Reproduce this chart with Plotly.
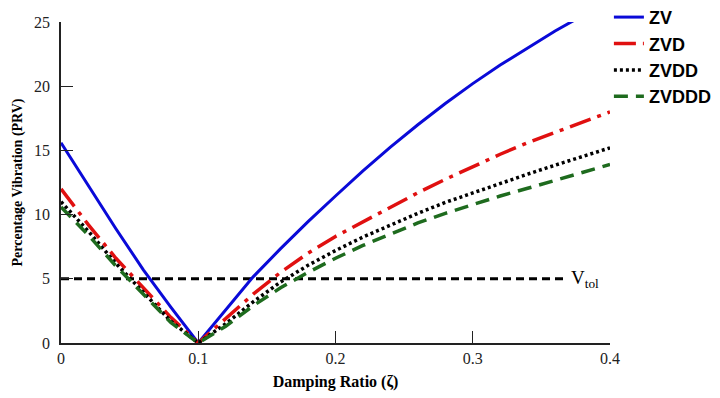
import plotly.graph_objects as go

# Damping ratio grid
zeta = [0.00, 0.02, 0.04, 0.06, 0.08, 0.10, 0.12, 0.14, 0.16, 0.18, 0.20,
        0.22, 0.24, 0.26, 0.28, 0.30, 0.32, 0.34, 0.36, 0.38, 0.40]

# Percentage residual vibration
zv    = [15.6, 12.2, 8.9, 5.7, 2.8, 0.0, 2.6, 5.15, 7.35, 9.45, 11.45,
         13.4, 15.25, 17.0, 18.65, 20.2, 21.65, 23.0, 24.3, 25.5, 26.6]
zvd   = [12.0, 9.2, 6.6, 4.3, 2.0, 0.0, 1.9, 3.8, 5.5, 7.0, 8.3,
         9.45, 10.6, 11.7, 12.75, 13.75, 14.7, 15.6, 16.4, 17.2, 18.0]
zvdd  = [11.0, 8.7, 6.2, 3.9, 1.7, 0.0, 1.5, 3.2, 4.75, 6.05, 7.2,
         8.25, 9.2, 10.1, 10.95, 11.7, 12.45, 13.15, 13.85, 14.55, 15.2]
zvddd = [10.6, 8.4, 6.0, 3.8, 1.6, 0.0, 1.3, 2.9, 4.3, 5.5, 6.6,
         7.6, 8.5, 9.35, 10.1, 10.8, 11.45, 12.05, 12.65, 13.3, 13.9]

vtol_x = [0.0, 0.366]
vtol_y = [5, 5]

x_ticks = [0, 0.1, 0.2, 0.3, 0.4]
x_ticktext = ["0", "0.1", "0.2", "0.3", "0.4"]
y_ticks = [0, 5, 10, 15, 20, 25]

serif = "Liberation Serif, Times New Roman, serif"
sans = "Liberation Sans, Arial, sans-serif"

fig = go.Figure()
fig.add_trace(go.Scatter(x=vtol_x, y=vtol_y, mode="lines", showlegend=False,
                         line=dict(color="black", width=3, dash="8px,5px")))
fig.add_trace(go.Scatter(x=zeta, y=zv, mode="lines", name="<b>ZV</b>",
                         line=dict(color="#0a0ad8", width=3)))
fig.add_trace(go.Scatter(x=zeta, y=zvd, mode="lines", name="<b>ZVD</b>",
                         line=dict(color="#e01010", width=3.5, dash="22px,7px,4px,7px")))
fig.add_trace(go.Scatter(x=zeta, y=zvdd, mode="lines", name="<b>ZVDD</b>",
                         line=dict(color="black", width=3.5, dash="3px,3px")))
fig.add_trace(go.Scatter(x=zeta, y=zvddd, mode="lines", name="<b>ZVDDD</b>",
                         line=dict(color="#1e6b1e", width=3.5, dash="14px,8px")))

fig.add_annotation(x=0.370, y=5, xref="x", yref="y", xanchor="left", yanchor="middle",
                   text="V<sub>tol</sub>", showarrow=False,
                   font=dict(family=serif, size=19, color="black"))

fig.update_layout(
    width=720, height=398,
    margin=dict(l=61, r=110, t=22, b=55, autoexpand=False),
    paper_bgcolor="white", plot_bgcolor="white",
    legend=dict(x=0.998, y=1.072, xanchor="left", yanchor="top",
                font=dict(family=sans, size=18, color="black"),
                itemwidth=30, bgcolor="rgba(0,0,0,0)"),
    xaxis=dict(range=[0, 0.4], tickvals=x_ticks, ticktext=x_ticktext,
               ticks="inside", ticklen=12, tickwidth=1.3, tickcolor="#222",
               showline=True, linecolor="#222", linewidth=1.5,
               showgrid=False, zeroline=False,
               tickfont=dict(family=serif, size=16, color="#222"),
               title=dict(text="<b>Damping Ratio (ζ)</b>", standoff=10,
                          font=dict(family=serif, size=16, color="black"))),
    yaxis=dict(range=[0, 25], tickvals=y_ticks,
               ticks="inside", ticklen=12, tickwidth=1.3, tickcolor="#222",
               showline=True, linecolor="#222", linewidth=1.5,
               showgrid=False, zeroline=False, ticklabelstandoff=6,
               tickfont=dict(family=serif, size=16, color="#222"),
               title=dict(text="<b>Percentage Vibration (PRV)</b>", standoff=8,
                          font=dict(family=serif, size=14, color="black"))),
)

fig.write_html("out.html")
